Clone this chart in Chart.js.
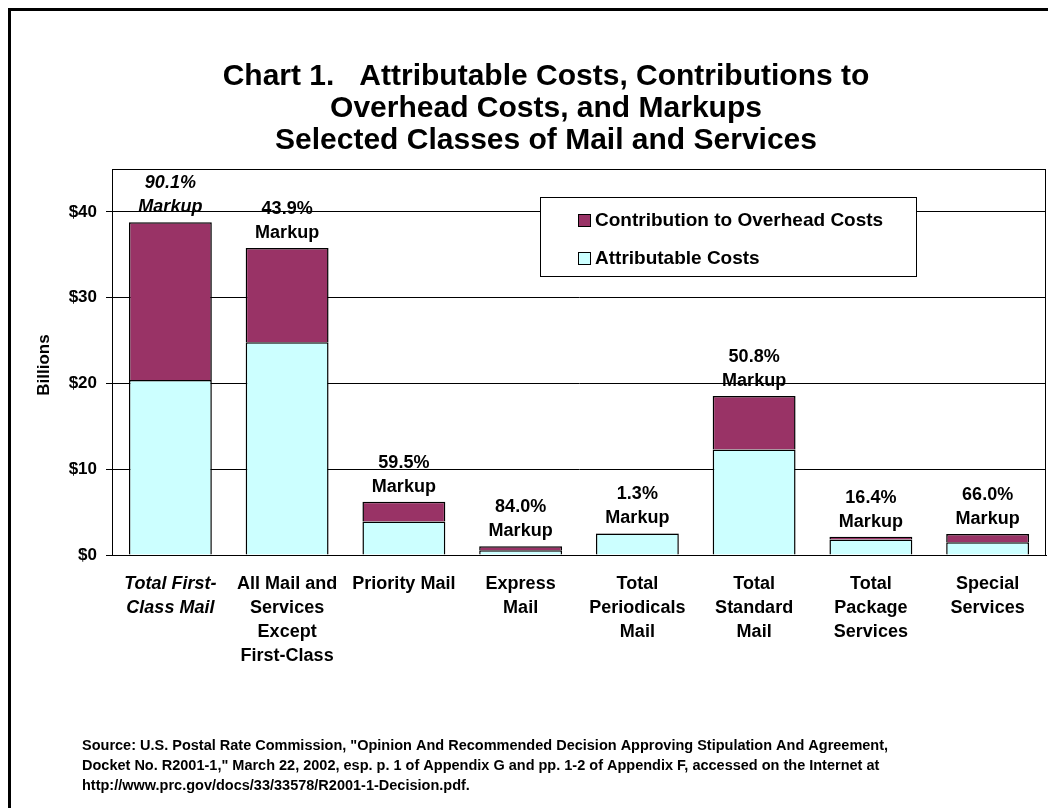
<!DOCTYPE html>
<html>
<head>
<meta charset="utf-8">
<script src="https://cdn.jsdelivr.net/npm/chart.js@4/dist/chart.umd.min.js"></script>
<style>
  body { margin: 0; background: #fff; }
  #wrap { width: 1048px; height: 808px; }
</style>
</head>
<body>
<div id="wrap"><canvas id="myChart" width="1048" height="808"></canvas></div>
<script>
// chart data
const categories = [
  ['Total First-', 'Class Mail'],
  ['All Mail and', 'Services', 'Except', 'First-Class'],
  ['Priority Mail'],
  ['Express', 'Mail'],
  ['Total', 'Periodicals', 'Mail'],
  ['Total', 'Standard', 'Mail'],
  ['Total', 'Package', 'Services'],
  ['Special', 'Services']
]
const attributable = [20.4, 24.8, 3.9, 0.55, 2.5, 12.3, 1.82, 1.48]
const contribution = [18.4, 11.0, 2.3, 0.46, 0.03, 6.25, 0.30, 0.98]
const markups = ['90.1%', '43.9%', '59.5%', '84.0%', '1.3%', '50.8%', '16.4%', '66.0%']
const yTicks = [0, 10, 20, 30, 40]

const titleLines = [
  'Chart 1.   Attributable Costs, Contributions to',
  'Overhead Costs, and Markups',
  'Selected Classes of Mail and Services'
]
const sourceLines = [
  'Source: U.S. Postal Rate Commission, "Opinion And Recommended Decision Approving Stipulation And Agreement,',
  'Docket No. R2001-1," March 22, 2002, esp. p. 1 of Appendix G and pp. 1-2 of Appendix F, accessed on the Internet at',
  'http://www.prc.gov/docs/33/33578/R2001-1-Decision.pdf.'
]

const FONT = '"Liberation Sans", Arial, sans-serif'
Chart.defaults.font.family = FONT
Chart.defaults.color = '#000'

// extra drawing: frame, titles, legend, markup labels, source
const decorations = {
  id: 'decorations',
  beforeDraw(chart) {
    const c = chart.ctx
    c.save()
    c.fillStyle = '#fff'
    c.fillRect(0, 0, chart.width, chart.height)
    c.restore()
  },
  afterDatasetsDraw(chart) {
    const c = chart.ctx
    const a = chart.chartArea
    c.save()

    // plot border
    c.strokeStyle = '#000'
    c.lineWidth = 1
    c.strokeRect(a.left + 0.5, a.top + 0.5, a.right - a.left - 1, a.bottom - a.top)

    // outer frame
    c.lineWidth = 3
    c.strokeRect(9.5, 9.5, 1100, 900)

    // title
    c.fillStyle = '#000'
    c.textAlign = 'center'
    c.textBaseline = 'middle'
    c.font = 'bold 30px ' + FONT
    titleLines.forEach((t, i) => c.fillText(t, 546, 77 + i * 32))

    // y title
    c.save()
    c.translate(44, 365)
    c.rotate(-Math.PI / 2)
    c.font = 'bold 17px ' + FONT
    c.fillText('Billions', 0, 0)
    c.restore()

    // markup labels above stacks
    const meta = chart.getDatasetMeta(1)
    meta.data.forEach((bar, i) => {
      c.font = (i === 0 ? 'italic ' : '') + 'bold 18px ' + FONT
      c.fillText(markups[i], bar.x, bar.y - 39)
      c.fillText('Markup', bar.x, bar.y - 15)
    })

    // legend
    c.fillStyle = '#fff'
    c.fillRect(540, 197, 376, 79)
    c.strokeStyle = '#000'
    c.lineWidth = 1
    c.strokeRect(540.5, 197.5, 376, 79)
    const items = [chart.data.datasets[1], chart.data.datasets[0]]
    items.forEach((ds, i) => {
      const y = 220 + i * 38
      c.fillStyle = ds.backgroundColor
      c.fillRect(578, y - 6, 12, 12)
      c.strokeStyle = '#000'
      c.strokeRect(578.5, y - 5.5, 12, 12)
      c.fillStyle = '#000'
      c.textAlign = 'left'
      c.font = 'bold 19px ' + FONT
      c.fillText(ds.label, 595, y + 1)
    })

    // source note
    c.font = 'bold 14.5px ' + FONT
    c.textAlign = 'left'
    sourceLines.forEach((t, i) => c.fillText(t, 82, 746 + i * 20))

    c.restore()
  }
}

const ctx = document.getElementById('myChart').getContext('2d')

const myChart = new Chart(ctx, {
  type: 'bar',
  data: {
    labels: categories,
    datasets: [{
      label: 'Attributable Costs',
      data: attributable,
      backgroundColor: '#CCFFFF',
      borderColor: '#000',
      borderWidth: 1.5
    }, {
      label: 'Contribution to Overhead Costs',
      data: contribution,
      backgroundColor: '#993366',
      borderColor: '#000',
      borderWidth: 1.5
    }]
  },
  options: {
    responsive: false,
    animation: false,
    barPercentage: 0.71,
    categoryPercentage: 1,
    layout: { padding: { top: 169, left: 0, right: 2, bottom: 0 } },
    plugins: {
      legend: { display: false },
      title: { display: false },
      tooltip: { enabled: false }
    },
    scales: {
      x: {
        stacked: true,
        grid: { display: false, drawTicks: false },
        border: { display: true, color: '#000', width: 1 },
        ticks: {
          maxRotation: 0,
          autoSkip: false,
          padding: 17,
          color: '#000',
          font: (c) => ({ family: FONT, size: 18, weight: 'bold', style: c.index === 0 ? 'italic' : 'normal', lineHeight: 1.33 })
        },
        afterFit(scale) { scale.height = 253 }
      },
      y: {
        stacked: true,
        min: 0,
        max: 45,
        afterBuildTicks(axis) {
          axis.ticks = yTicks.map(v => ({ value: v }))
        },
        grid: { color: '#000', lineWidth: 1, tickLength: 6 },
        border: { display: true, color: '#000', width: 1 },
        ticks: {
          padding: 9,
          color: '#000',
          font: { size: 17, weight: 'bold' },
          callback: v => '$' + v
        },
        afterFit(scale) { scale.width = 112 }
      }
    }
  },
  plugins: [decorations]
})
</script>
</body>
</html>
